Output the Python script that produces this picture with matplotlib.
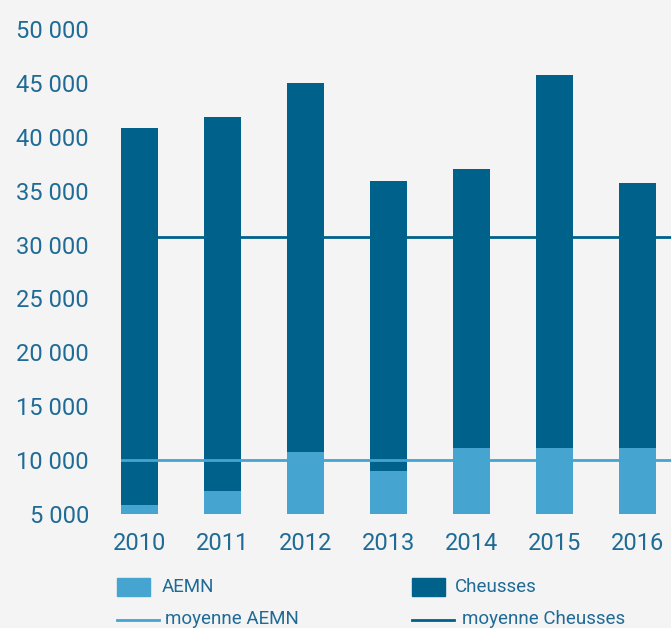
import numpy as np
import matplotlib.pyplot as plt
from matplotlib.patches import Rectangle
from matplotlib.lines import Line2D

years = ['2010', '2011', '2012', '2013', '2014', '2015', '2016']
aemn = [5800, 7100, 10750, 9000, 11100, 11100, 11100]
cheusses = [35000, 34700, 34250, 26900, 25900, 34600, 24600]
moyenne_aemn = 10050
moyenne_cheusses = 30700

light = '#45a4d0'
dark = '#00618b'
txt = '#1f6b96'
bg = '#f4f4f4'

plt.rcParams['font.family'] = ['Roboto', 'DejaVu Sans']

fig = plt.figure(figsize=(6.71, 6.28), dpi=100, facecolor=bg)
ax = fig.add_axes([121 / 671, 114 / 628, 550 / 671, 485 / 628])
ax.set_facecolor(bg)

x = np.arange(len(years))
w = 0.446
ax.bar(x, aemn, w, color=light, zorder=2)
ax.bar(x, cheusses, w, bottom=aemn, color=dark, zorder=2)
ax.axhline(moyenne_cheusses, color=dark, lw=2, zorder=1)
ax.axhline(moyenne_aemn, color=light, lw=2, zorder=3)

ax.set_xlim(-0.223, -0.223 + 550 / 83)
ax.set_ylim(5000, 50000)
ax.set_xticks(x)
ax.set_xticklabels(years)
yt = np.arange(5000, 50001, 5000)
ax.set_yticks(yt)
ax.set_yticklabels([f'{v:,}'.replace(',', ' ') for v in yt])
ax.tick_params(length=0, labelsize=17, colors=txt)
ax.tick_params(axis='y', pad=23)
ax.tick_params(axis='x', pad=13)
for s in ax.spines.values():
    s.set_visible(False)

# legend drawn by hand
def fx(px):
    return px / 671

def fy(py):
    return 1 - py / 628

fig.patches.append(Rectangle((fx(117), fy(596)), fx(33), 18 / 628, color=light, transform=fig.transFigure))
fig.text(fx(162), fy(587), 'AEMN', fontsize=13.5, color=txt, va='center')
fig.patches.append(Rectangle((fx(412), fy(596)), fx(33), 18 / 628, color=dark, transform=fig.transFigure))
fig.text(fx(455), fy(587), 'Cheusses', fontsize=13.5, color=txt, va='center')
fig.lines.append(Line2D([fx(117), fx(159)], [fy(620), fy(620)], color=light, lw=2, transform=fig.transFigure))
fig.text(fx(165), fy(619), 'moyenne AEMN', fontsize=13.5, color=txt, va='center')
fig.lines.append(Line2D([fx(412), fx(454)], [fy(620), fy(620)], color=dark, lw=2, transform=fig.transFigure))
fig.text(fx(462), fy(619), 'moyenne Cheusses', fontsize=13.5, color=txt, va='center')

fig.savefig('out.png', dpi=100, facecolor=bg)
